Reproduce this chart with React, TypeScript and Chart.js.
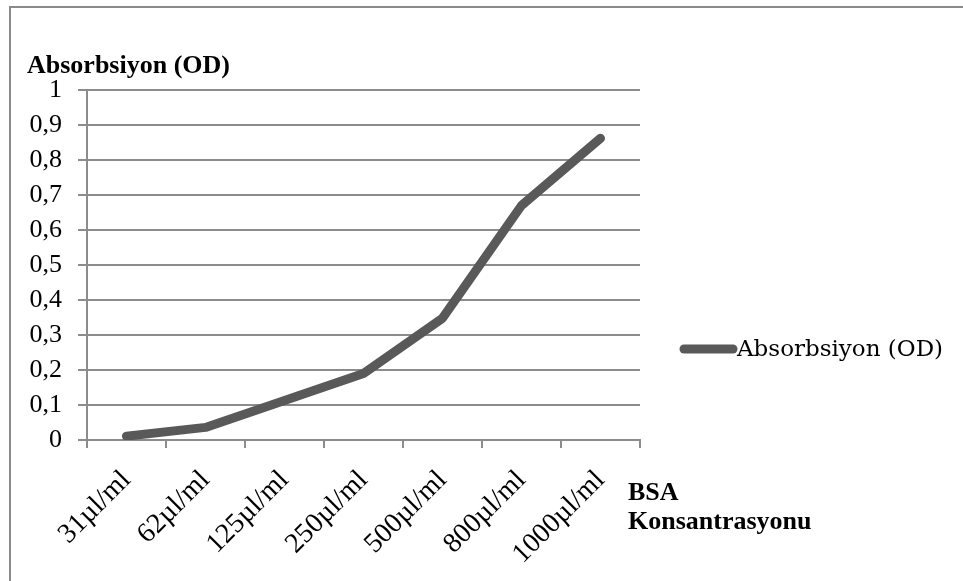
import React, { useEffect, useRef } from "react";
import { Chart, registerables } from "chart.js";

Chart.register(...registerables);

const categories = ["31µl/ml", "62µl/ml", "125µl/ml", "250µl/ml", "500µl/ml", "800µl/ml", "1000µl/ml"];
const absorbance = [0.011, 0.036, 0.113, 0.19, 0.348, 0.67, 0.862];
const seriesLabel = "Absorbsiyon (OD)";
const yTitle = "Absorbsiyon (OD)";
const xTitleLines = ["BSA", "Konsantrasyonu"];

const LINE_COLOR = "#595959";
const GRID_COLOR = "#8c8c8c";
const SERIF = "'Liberation Serif', 'Times New Roman', serif";

const decorPlugin = {
  id: "decor",
  beforeDraw(chart: any) {
    const { ctx, width, height } = chart;
    ctx.save();
    ctx.fillStyle = "#ffffff";
    ctx.fillRect(0, 0, width, height);
    ctx.strokeStyle = "#8a8a8a";
    ctx.lineWidth = 2;
    ctx.beginPath();
    ctx.moveTo(10, height + 2);
    ctx.lineTo(10, 7);
    ctx.lineTo(width + 2, 7);
    ctx.stroke();
    ctx.restore();
  },
  afterDraw(chart: any) {
    const { ctx, chartArea } = chart;
    ctx.save();
    ctx.fillStyle = "#000";
    ctx.font = `bold 26px ${SERIF}`;
    ctx.textAlign = "left";
    ctx.textBaseline = "middle";
    ctx.fillText(yTitle, 27, 66);
    ctx.fillText(xTitleLines[0], chartArea.right - 12, 493);
    ctx.fillText(xTitleLines[1], chartArea.right - 12, 522);

    // legend
    const ds = chart.data.datasets[0];
    const ly = 349;
    ctx.strokeStyle = ds.borderColor;
    ctx.lineWidth = ds.borderWidth;
    ctx.lineCap = "round";
    ctx.beginPath();
    ctx.moveTo(684, ly);
    ctx.lineTo(733, ly);
    ctx.stroke();
    ctx.font = `23px 'DejaVu Serif', serif`;
    ctx.fillStyle = "#000";
    ctx.textBaseline = "middle";
    ctx.fillText(ds.label, 737, ly + 1);
    ctx.restore();
  },
};

export default function App() {
  const ref = useRef<HTMLCanvasElement>(null);
  useEffect(() => {
    const chart = new Chart(ref.current as HTMLCanvasElement, {
      type: "line",
      data: {
        labels: categories,
        datasets: [
          {
            label: seriesLabel,
            data: absorbance,
            borderColor: LINE_COLOR,
            backgroundColor: LINE_COLOR,
            borderWidth: 9,
            pointRadius: 0,
            tension: 0,
            borderCapStyle: "round",
            borderJoinStyle: "round",
          },
        ],
      },
      options: {
        animation: false,
        responsive: false,
        layout: { padding: { left: 0, right: 323, top: 90, bottom: 0 } },
        plugins: { legend: { display: false }, tooltip: { enabled: false } },
        scales: {
          x: {
            offset: true,
            grid: {
              offset: true,
              drawOnChartArea: false,
              drawTicks: true,
              tickLength: 8,
              color: GRID_COLOR,
              lineWidth: 2,
            },
            border: { color: GRID_COLOR, width: 2 },
            ticks: {
              color: "#000",
              font: { family: SERIF, size: 28 },
              maxRotation: 45,
              minRotation: 45,
              padding: 16,
              autoSkip: false,
            },
            afterFit(scale: any) {
              scale.height = 141;
            },
          },
          y: {
            min: 0,
            max: 1,
            ticks: {
              stepSize: 0.1,
              color: "#000",
              font: { family: SERIF, size: 26 },
              padding: 16,
              callback: (v: any) => {
                const n = Math.round(Number(v) * 10) / 10;
                return String(n).replace(".", ",");
              },
            },
            grid: { color: GRID_COLOR, lineWidth: 2, tickLength: 9 },
            border: { color: GRID_COLOR, width: 2 },
            afterFit(scale: any) {
              scale.width = 87;
            },
          },
        },
      },
      plugins: [decorPlugin],
    } as any);
    return () => chart.destroy();
  }, []);
  return (
    <div style={{ position: "fixed", left: 0, top: 0, width: 963, height: 581, background: "#fff" }}>
      <canvas ref={ref} width={963} height={581} style={{ display: "block" }} />
    </div>
  );
}
